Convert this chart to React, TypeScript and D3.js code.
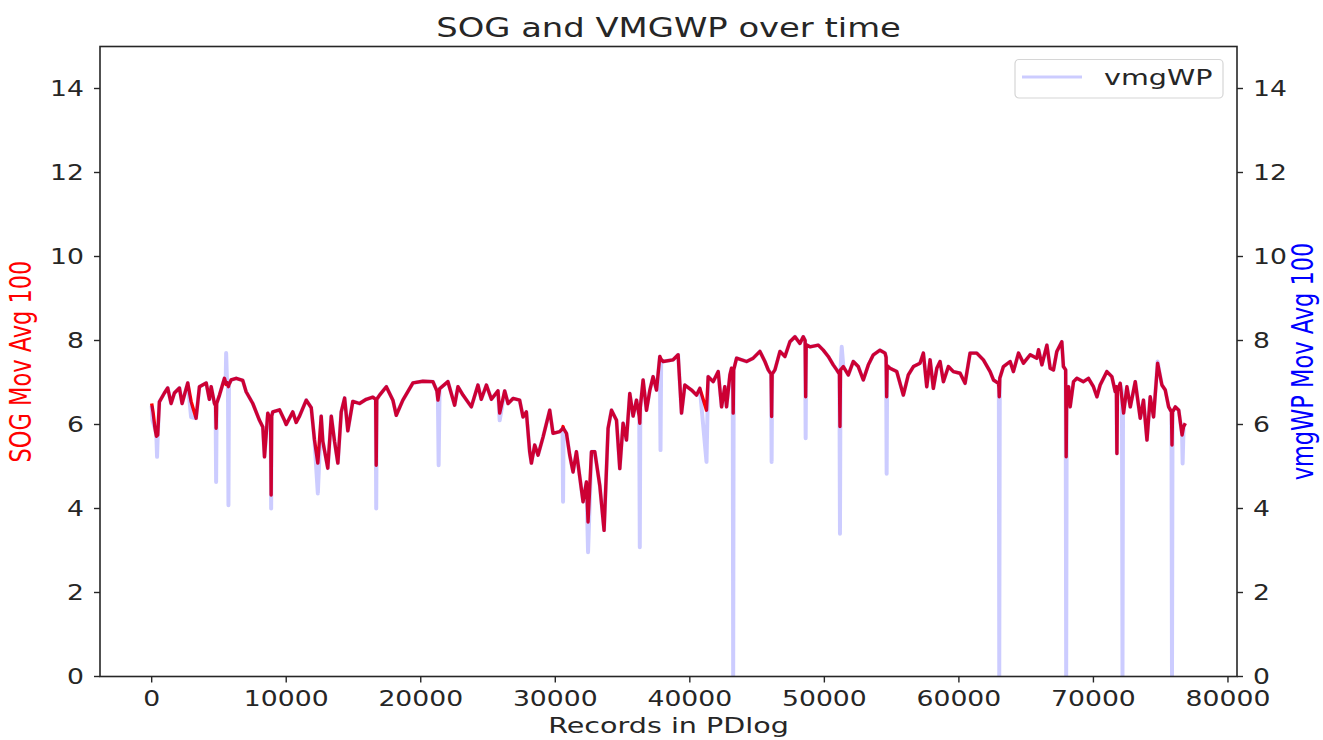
import React from "react";
import * as d3 from "d3";

// Records-in-log positions and 100-sample moving averages (knots)
const sogPoints: [number, number][] = [
  [0, 6.5], [100, 6.3], [250, 5.9], [350, 5.72], [450, 5.75], [573, 6.54], [945, 6.75], [1190, 6.87],
  [1443, 6.5], [1690, 6.75], [2062, 6.87], [2260, 6.5], [2680, 6.99], [2930, 6.55], [3300, 6.15],
  [3550, 6.9], [4050, 6.99], [4290, 6.6], [4420, 6.9], [4665, 6.5], [4750, 6.45], [4790, 5.91],
  [4830, 6.5], [5040, 6.7], [5410, 7.1], [5500, 7.0], [5535, 6.95], [5600, 7.0], [5670, 6.95],
  [5706, 6.9], [5745, 6.95], [5905, 7.06], [6280, 7.1], [6770, 7.05], [7020, 6.78], [7515, 6.5],
  [8012, 6.1], [8260, 5.94], [8385, 5.23], [8630, 6.27], [8840, 6.1], [8880, 4.32], [8920, 6.2],
  [9000, 6.3], [9500, 6.35], [9870, 6.1], [10000, 6.0], [10490, 6.3], [10740, 6.05], [10990, 6.2],
  [11490, 6.58], [11860, 6.4], [12100, 5.63], [12350, 5.08], [12600, 6.2], [12720, 5.6], [13090, 4.96],
  [13350, 6.2], [13590, 5.6], [13840, 5.08], [14090, 6.3], [14340, 6.63], [14580, 5.85], [14950, 6.55],
  [15450, 6.5], [15950, 6.6], [16440, 6.65], [16650, 6.6], [16690, 5.03], [16730, 6.6], [16940, 6.7],
  [17440, 6.9], [17930, 6.58], [18180, 6.22], [18670, 6.58], [19420, 6.99], [20160, 7.03], [20905, 7.02],
  [21200, 6.8], [21277, 6.58], [21400, 6.85], [22020, 7.02], [22519, 6.46], [22765, 6.9], [23140, 6.7],
  [23761, 6.42], [24253, 6.94], [24500, 6.6], [24880, 6.94], [25250, 6.6], [25740, 6.8], [25866, 6.27],
  [26240, 6.8], [26490, 6.5], [26860, 6.62], [27350, 6.58], [27600, 6.18], [27850, 6.3], [28098, 5.35],
  [28225, 5.08], [28470, 5.51], [28720, 5.27], [29090, 5.7], [29587, 6.34], [29830, 5.79], [30330, 5.83],
  [30540, 5.9], [30577, 5.95], [30615, 5.9], [30830, 5.79], [31074, 5.27], [31320, 4.87], [31570, 5.35],
  [31820, 4.75], [32064, 4.16], [32315, 4.63], [32436, 3.68], [32688, 5.35], [32935, 5.35], [33306, 4.55],
  [33626, 3.48], [33924, 5.91], [34177, 6.34], [34550, 6.1], [34794, 4.95], [35040, 6.03], [35290, 5.63],
  [35538, 6.74], [35785, 6.2], [36035, 6.58], [36240, 6.2], [36282, 6.03], [36320, 6.4], [36527, 7.06],
  [36780, 6.34], [37030, 6.82], [37270, 7.14], [37525, 6.82], [37770, 7.62], [37870, 7.55], [38015, 7.5],
  [38760, 7.54], [39131, 7.66], [39384, 6.27], [39630, 6.94], [40130, 6.82], [40500, 6.7], [40745, 6.86],
  [41240, 6.34], [41365, 7.14], [41735, 7.02], [42110, 7.26], [42360, 6.42], [42600, 6.9], [42730, 6.42],
  [42980, 7.18], [43100, 7.34], [43190, 7.2], [43223, 6.27], [43260, 7.3], [43475, 7.58], [44220, 7.5],
  [44710, 7.58], [45210, 7.74], [45580, 7.5], [45830, 7.3], [46040, 7.2], [46080, 6.19], [46120, 7.2],
  [46325, 7.3], [46700, 7.74], [47070, 7.62], [47440, 7.97], [47815, 8.09], [48185, 7.93], [48430, 8.09],
  [48570, 8.0], [48610, 6.66], [48650, 7.9], [48930, 7.85], [49550, 7.89], [49920, 7.77], [50290, 7.62],
  [50660, 7.42], [50920, 7.3], [51120, 7.2], [51160, 5.95], [51200, 7.3], [51410, 7.38], [51780, 7.18],
  [52150, 7.5], [52520, 7.38], [52895, 7.06], [53270, 7.42], [53640, 7.66], [54135, 7.77], [54510, 7.7],
  [54590, 7.6], [54630, 6.66], [54670, 7.4], [54880, 7.34], [55380, 7.26], [55870, 6.7], [56240, 7.18],
  [56620, 7.38], [57110, 7.46], [57360, 7.7], [57610, 6.9], [57860, 7.54], [58100, 6.86], [58360, 7.34],
  [58600, 7.5], [58850, 7.02], [59220, 7.38], [59590, 7.26], [60090, 7.22], [60460, 6.98], [60830, 7.7],
  [61330, 7.7], [61820, 7.54], [62320, 7.26], [62570, 7.06], [62940, 6.98], [62970, 6.9], [63000, 6.66],
  [63040, 7.1], [63310, 7.38], [63810, 7.5], [64050, 7.26], [64430, 7.7], [64800, 7.46], [65300, 7.66],
  [65790, 7.58], [65920, 7.78], [66170, 7.42], [66540, 7.89], [66785, 7.34], [67030, 7.3], [67280, 7.74],
  [67650, 7.97], [67770, 7.38], [67935, 7.3], [67975, 5.23], [68015, 6.8], [68150, 6.9], [68270, 6.42],
  [68520, 7.02], [68770, 7.1], [69260, 7.02], [69630, 7.1], [70000, 6.9], [70260, 6.66], [70500, 6.94],
  [71000, 7.26], [71370, 7.14], [71620, 6.78], [71705, 6.9], [71745, 5.31], [71785, 6.8], [71990, 6.98],
  [72240, 6.27], [72490, 6.9], [72740, 6.42], [73110, 7.02], [73480, 6.15], [73720, 6.58], [73980, 5.63],
  [74220, 6.66], [74470, 6.18], [74770, 7.46], [75090, 6.94], [75340, 6.82], [75590, 6.42], [75800, 6.3],
  [75840, 5.51], [75880, 6.3], [76090, 6.42], [76340, 6.34], [76590, 5.75], [76700, 5.95], [76830, 6.03],
];

const vmgPoints: [number, number][] = [
  [0, 6.45], [60, 6.1], [250, 5.9], [350, 5.72], [400, 5.23], [450, 5.75], [573, 6.54], [945, 6.75],
  [1190, 6.87], [1443, 6.5], [1690, 6.75], [2062, 6.87], [2260, 6.5], [2680, 6.99], [2930, 6.18],
  [3300, 6.15], [3550, 6.9], [4050, 6.99], [4290, 6.6], [4420, 6.9], [4665, 6.5], [4750, 6.45],
  [4790, 4.63], [4830, 6.5], [5040, 6.7], [5410, 7.1], [5500, 7.0], [5535, 7.7], [5600, 7.0],
  [5670, 6.95], [5706, 4.08], [5745, 6.95], [5905, 7.06], [6280, 7.1], [6770, 7.05], [7020, 6.78],
  [7515, 6.5], [8012, 6.1], [8260, 5.94], [8385, 5.23], [8630, 6.27], [8840, 6.1], [8880, 4.0],
  [8920, 6.2], [9000, 6.3], [9500, 6.35], [9870, 6.1], [10000, 6.0], [10490, 6.3], [10740, 6.05],
  [10990, 6.2], [11490, 6.58], [11860, 6.4], [12100, 5.63], [12350, 4.36], [12600, 6.2], [12720, 5.6],
  [13090, 4.96], [13350, 6.2], [13590, 5.6], [13840, 5.08], [14090, 6.3], [14340, 6.63], [14580, 5.85],
  [14950, 6.55], [15450, 6.5], [15950, 6.6], [16440, 6.65], [16650, 6.6], [16690, 4.0], [16730, 6.6],
  [16940, 6.7], [17440, 6.9], [17930, 6.58], [18180, 6.22], [18670, 6.58], [19420, 6.99], [20160, 7.03],
  [20905, 7.02], [21200, 6.8], [21277, 6.58], [21330, 5.03], [21400, 6.85], [22020, 7.02], [22519, 6.46],
  [22765, 6.9], [23140, 6.7], [23761, 6.42], [24253, 6.94], [24500, 6.6], [24880, 6.94], [25250, 6.6],
  [25740, 6.8], [25866, 6.1], [26240, 6.8], [26490, 6.5], [26860, 6.62], [27350, 6.58], [27600, 6.18],
  [27850, 6.3], [28098, 5.35], [28225, 5.08], [28470, 5.51], [28720, 5.27], [29090, 5.7], [29587, 6.34],
  [29830, 5.79], [30330, 5.83], [30540, 5.9], [30577, 4.16], [30615, 5.9], [30830, 5.79], [31074, 5.27],
  [31320, 4.87], [31570, 5.35], [31820, 4.75], [32064, 4.16], [32315, 4.63], [32436, 2.96], [32688, 5.35],
  [32935, 5.35], [33306, 4.55], [33626, 3.48], [33924, 5.91], [34177, 6.34], [34550, 6.1], [34794, 4.95],
  [35040, 6.03], [35290, 5.63], [35538, 6.74], [35785, 6.2], [36035, 6.58], [36240, 6.2], [36282, 3.08],
  [36320, 6.4], [36527, 7.06], [36780, 6.34], [37030, 6.82], [37270, 7.14], [37525, 6.82], [37770, 7.62],
  [37822, 5.39], [37870, 7.55], [38015, 7.5], [38760, 7.54], [39131, 7.66], [39384, 6.27], [39630, 6.94],
  [40130, 6.82], [40500, 6.7], [40745, 6.86], [41240, 5.11], [41365, 7.14], [41735, 7.02], [42110, 7.26],
  [42360, 6.42], [42600, 6.9], [42730, 6.42], [42980, 7.18], [43100, 7.34], [43190, 7.2], [43223, 0],
  [43260, 7.3], [43475, 7.58], [44220, 7.5], [44710, 7.58], [45210, 7.74], [45580, 7.5], [45830, 7.3],
  [46040, 7.2], [46080, 5.11], [46120, 7.2], [46325, 7.3], [46700, 7.74], [47070, 7.62], [47440, 7.97],
  [47815, 8.09], [48185, 7.93], [48430, 8.09], [48570, 8.0], [48610, 5.67], [48650, 7.9], [48930, 7.85],
  [49550, 7.89], [49920, 7.77], [50290, 7.62], [50660, 7.42], [50920, 7.3], [51120, 7.2], [51160, 3.4],
  [51200, 7.3], [51290, 7.85], [51410, 7.38], [51780, 7.18], [52150, 7.5], [52520, 7.38], [52895, 7.06],
  [53270, 7.42], [53640, 7.66], [54135, 7.77], [54510, 7.7], [54590, 7.6], [54630, 4.83], [54670, 7.4],
  [54880, 7.34], [55380, 7.26], [55870, 6.7], [56240, 7.18], [56620, 7.38], [57110, 7.46], [57360, 7.7],
  [57610, 6.9], [57860, 7.54], [58100, 6.86], [58360, 7.34], [58600, 7.5], [58850, 7.02], [59220, 7.38],
  [59590, 7.26], [60090, 7.22], [60460, 6.98], [60830, 7.7], [61330, 7.7], [61820, 7.54], [62320, 7.26],
  [62570, 7.06], [62940, 6.98], [62970, 6.9], [63000, 0], [63040, 7.1], [63310, 7.38], [63810, 7.5],
  [64050, 7.26], [64430, 7.7], [64800, 7.46], [65300, 7.66], [65790, 7.58], [65920, 7.78], [66170, 7.42],
  [66540, 7.89], [66785, 7.34], [67030, 7.3], [67280, 7.74], [67650, 7.97], [67770, 7.38], [67935, 7.3],
  [67975, 0], [68015, 6.8], [68150, 6.9], [68270, 6.42], [68520, 7.02], [68770, 7.1], [69260, 7.02],
  [69630, 7.1], [70000, 6.9], [70260, 6.66], [70500, 6.94], [71000, 7.26], [71370, 7.14], [71620, 6.78],
  [71705, 6.9], [71745, 5.31], [71785, 6.8], [71990, 6.98], [72120, 6.8], [72160, 0], [72200, 6.6],
  [72240, 6.27], [72490, 6.9], [72740, 6.42], [73110, 7.02], [73480, 6.15], [73720, 6.58], [73980, 5.63],
  [74220, 6.66], [74470, 6.18], [74770, 7.5], [75090, 6.94], [75340, 6.82], [75590, 6.42], [75800, 6.3],
  [75840, 0], [75880, 6.3], [76090, 6.42], [76340, 6.34], [76590, 5.75], [76630, 5.07], [76700, 5.95],
  [76830, 6.03],
];

const xTicks = [0, 10000, 20000, 30000, 40000, 50000, 60000, 70000, 80000];
const yTicks = [0, 2, 4, 6, 8, 10, 12, 14];

const TITLE = "SOG and VMGWP over time";
const X_LABEL = "Records in PDlog";
const Y_LEFT_LABEL = "SOG Mov Avg 100";
const Y_RIGHT_LABEL = "vmgWP Mov Avg 100";
const LEGEND_LABEL = "vmgWP";

const W = 1323;
const H = 740;
const PLOT = { left: 100, right: 1237, top: 46.5, bottom: 676.5 };
const FONT = "'DejaVu Sans', Verdana, sans-serif";
const SX = 1.3; // glyphs are drawn wider than tall
const INK = "#262626";

export default function App() {
  const allX = sogPoints.map((d) => d[0]).concat(vmgPoints.map((d) => d[0]));
  const x0 = d3.min(allX) as number;
  const x1 = d3.max(allX) as number;
  const pad = (x1 - x0) * 0.05;
  const x = d3.scaleLinear().domain([x0 - pad, x1 + pad]).range([PLOT.left, PLOT.right]);
  const y = d3.scaleLinear().domain([0, 15]).range([PLOT.bottom, PLOT.top]);

  const line = d3
    .line<[number, number]>()
    .x((d) => x(d[0]))
    .y((d) => y(d[1]));

  const tickFs = 20.5;
  const labelFs = 22;
  const ylabFs = 22.5;

  return (
    <svg
      width={W}
      height={H}
      style={{ position: "absolute", left: 0, top: 0, background: "#fff" }}
      fontFamily={FONT}
    >
      <defs>
        <clipPath id="plot-clip">
          <rect x={PLOT.left} y={PLOT.top} width={PLOT.right - PLOT.left} height={PLOT.bottom - PLOT.top} />
        </clipPath>
      </defs>
      <rect x={0} y={0} width={W} height={H} fill="#fff" />

      {/* series */}
      <g clipPath="url(#plot-clip)">
        <path d={line(sogPoints) || ""} fill="none" stroke="#ff0000" strokeWidth={3.4} strokeLinejoin="round" />
        <path
          d={line(vmgPoints) || ""}
          fill="none"
          stroke="#0000ff"
          strokeOpacity={0.2}
          strokeWidth={4}
          strokeLinejoin="round"
        />
      </g>

      {/* axes frame */}
      <rect
        x={PLOT.left}
        y={PLOT.top}
        width={PLOT.right - PLOT.left}
        height={PLOT.bottom - PLOT.top}
        fill="none"
        stroke={INK}
        strokeWidth={1.6}
      />

      {/* x ticks */}
      {xTicks.map((t) => (
        <g key={"xt" + t}>
          <line x1={x(t)} x2={x(t)} y1={PLOT.bottom} y2={PLOT.bottom + 6} stroke={INK} strokeWidth={1.4} />
          <g transform={`translate(${x(t)},${706}) scale(${SX},1)`}>
            <text textAnchor="middle" fontSize={tickFs} fill={INK}>
              {String(t)}
            </text>
          </g>
        </g>
      ))}

      {/* y ticks, both sides */}
      {yTicks.map((t) => (
        <g key={"yt" + t}>
          <line x1={PLOT.left - 6} x2={PLOT.left} y1={y(t)} y2={y(t)} stroke={INK} strokeWidth={1.4} />
          <line x1={PLOT.right} x2={PLOT.right + 6} y1={y(t)} y2={y(t)} stroke={INK} strokeWidth={1.4} />
          <g transform={`translate(${PLOT.left - 16},${y(t) + 7.5}) scale(${SX},1)`}>
            <text textAnchor="end" fontSize={tickFs} fill={INK}>
              {String(t)}
            </text>
          </g>
          <g transform={`translate(${PLOT.right + 16},${y(t) + 7.5}) scale(${SX},1)`}>
            <text textAnchor="start" fontSize={tickFs} fill={INK}>
              {String(t)}
            </text>
          </g>
        </g>
      ))}

      {/* title */}
      <g transform={`translate(${(PLOT.left + PLOT.right) / 2},${37}) scale(${SX},1)`}>
        <text textAnchor="middle" fontSize={26} fill={INK}>
          {TITLE}
        </text>
      </g>

      {/* x label */}
      <g transform={`translate(${(PLOT.left + PLOT.right) / 2},${733}) scale(${SX},1)`}>
        <text textAnchor="middle" fontSize={labelFs} fill={INK}>
          {X_LABEL}
        </text>
      </g>

      {/* left y label */}
      <g transform={`translate(${31},${(PLOT.top + PLOT.bottom) / 2}) scale(${SX},1) rotate(-90)`}>
        <text textAnchor="middle" fontSize={ylabFs} fill="#ff0000">
          {Y_LEFT_LABEL}
        </text>
      </g>

      {/* right y label */}
      <g transform={`translate(${1313},${(PLOT.top + PLOT.bottom) / 2}) scale(${SX},1) rotate(-90)`}>
        <text textAnchor="middle" fontSize={ylabFs} fill="#0000ff">
          {Y_RIGHT_LABEL}
        </text>
      </g>

      {/* legend */}
      <g>
        <rect x={1015} y={59.5} width={208} height={38.5} rx={4} fill="#fff" fillOpacity={0.8} stroke="#d6d6d6" strokeWidth={1.2} />
        <line x1={1022} x2={1082} y1={77} y2={77} stroke="#0000ff" strokeOpacity={0.2} strokeWidth={3} />
        <g transform={`translate(${1104},${85}) scale(${SX},1)`}>
          <text textAnchor="start" fontSize={labelFs} fill={INK}>
            {LEGEND_LABEL}
          </text>
        </g>
      </g>
    </svg>
  );
}
